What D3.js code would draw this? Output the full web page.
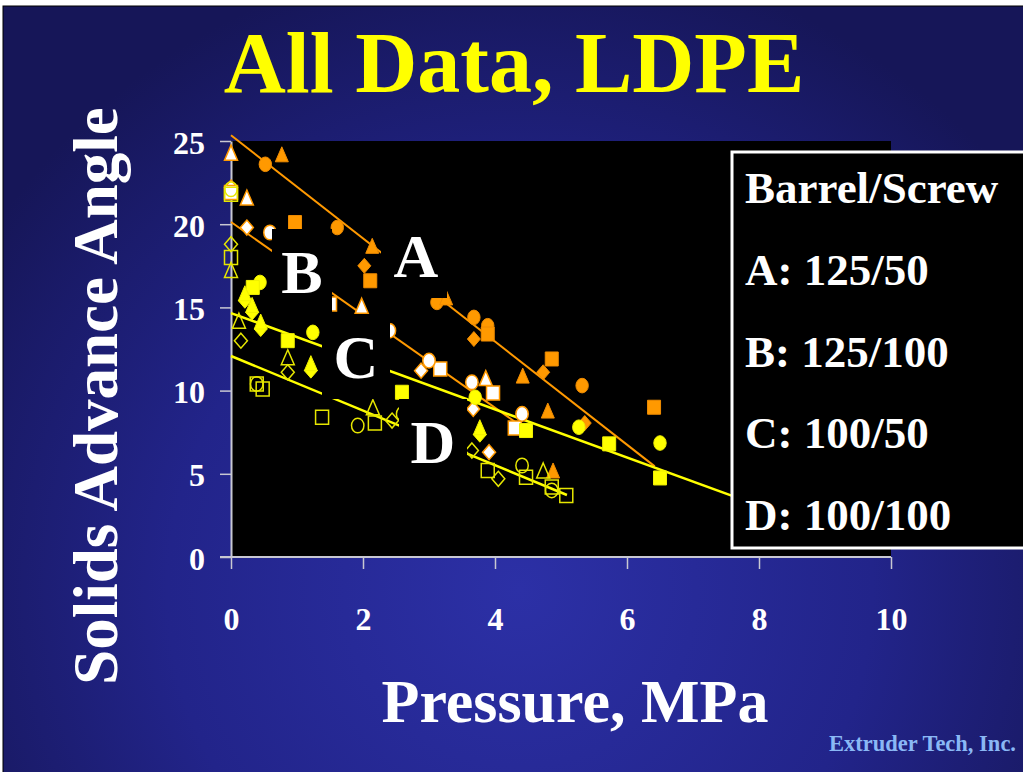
<!DOCTYPE html>
<html><head><meta charset="utf-8">
<script src="https://cdn.jsdelivr.net/npm/d3@7"></script>
<style>html,body{margin:0;padding:0;background:#fff;overflow:hidden}</style>
</head><body><svg id="c" width="1023" height="772"></svg>
<script>
// ---------- data ----------
const xTicks = [0, 2, 4, 6, 8, 10];
const yTicks = [0, 5, 10, 15, 20, 25];
const seriesKeys = ["A", "B", "C", "D"];
const legendLines = ["Barrel/Screw", "A: 125/50", "B: 125/100", "C: 100/50", "D: 100/100"];

// Series A: 125/50 (orange filled)
const aX = [0.52, 1.61, 3.12, 3.68, 3.89, 5.32, 0.77, 2.14, 3.26, 4.42, 4.80, 4.88, 0.97, 2.11, 3.89, 4.86, 6.41, 2.02, 3.68, 4.73, 5.36];
const aY = [23.6, 19.8, 15.3, 14.4, 13.9, 10.3, 24.2, 18.7, 15.6, 10.9, 8.8, 5.2, 20.1, 16.6, 13.4, 11.9, 9.0, 17.5, 13.1, 11.1, 8.05];
const aShape = ["circle","circle","circle","circle","circle","circle","triangle","triangle","triangle","triangle","triangle","triangle","square","square","square","square","square","diamond","diamond","diamond","diamond"];

// Series B: 125/100 (white, orange outline)
const bX = [0, 0.24, 1.98, 3.86, 0, 0.24, 2.88, 3.67, 3.91, 0, 1.50, 3.17, 3.97, 4.30, 0.59, 2.40, 3.00, 3.65, 4.41];
const bY = [24.3, 21.6, 15.1, 10.75, 22.2, 19.8, 11.2, 8.9, 6.3, 21.9, 15.2, 11.3, 9.85, 7.75, 19.5, 13.6, 11.8, 10.5, 8.6];
const bShape = ["triangle","triangle","triangle","triangle","diamond","diamond","diamond","diamond","diamond","square","square","square","square","square","circle","circle","circle","circle","circle"];

// Series C: 100/50 (yellow filled)
const cX = [0.44, 1.24, 3.70, 5.27, 6.50, 0.33, 0.86, 2.59, 4.47, 5.73, 6.50, 0.21, 0.32, 0.45, 1.21, 3.77, 0.21, 0.32, 0.45, 1.21, 3.77];
const cY = [16.5, 13.5, 9.6, 7.8, 6.85, 16.2, 13.0, 9.9, 7.6, 6.8, 4.75, 15.4, 14.7, 13.7, 11.2, 7.35, 15.85, 15.15, 14.15, 11.65, 7.8];
const cShape = ["circle","circle","circle","circle","circle","square","square","square","square","square","square","diamond","diamond","diamond","diamond","diamond","triangle","triangle","triangle","triangle","triangle"];

// Series D: 100/100 (yellow hollow)
const dX = [0, 0.12, 0.86, 2.15, 4.73, 0, 0.15, 0.86, 2.44, 3.65, 4.05, 0, 0, 0.39, 0.48, 1.38, 2.18, 3.89, 4.47, 4.86, 5.08, 0, 0.39, 1.92, 2.60, 4.41, 4.86];
const dY = [17.25, 14.2, 12.0, 9.0, 5.2, 18.8, 13.0, 11.1, 8.2, 6.4, 4.7, 18.0, 21.8, 10.4, 10.1, 8.4, 8.05, 5.2, 4.8, 4.2, 3.7, 22.1, 10.4, 7.9, 8.6, 5.5, 4.0];
const dShape = ["triangle","triangle","triangle","triangle","triangle","diamond","diamond","diamond","diamond","diamond","diamond","square","square","square","square","square","square","square","square","square","square","circle","circle","circle","circle","circle","circle"];

// Trend lines (A, B, C, D)
const trendX0 = [0, 0, 0, 0];
const trendX1 = [6.42, 4.33, 8.0, 5.09];
const trendIntercept = [25.35, 20.13, 14.66, 12.08];
const trendSlope = [-3.10, -2.79, -1.447, -1.641];

// ---------- drawing ----------
const svg = d3.select("#c");
const W = 1023, H = 772;
const serif = "'Liberation Serif','Times New Roman',Times,serif";

const defs = svg.append("defs");
const grad = defs.append("radialGradient").attr("id", "bg")
  .attr("gradientUnits", "userSpaceOnUse")
  .attr("cx", 520).attr("cy", 590).attr("r", 640);
grad.append("stop").attr("offset", "0").attr("stop-color", "#2c30a6");
grad.append("stop").attr("offset", "0.55").attr("stop-color", "#22248a");
grad.append("stop").attr("offset", "1").attr("stop-color", "#161658");

svg.append("rect").attr("width", W).attr("height", H).attr("fill", "#fff");
svg.append("rect").attr("x", 3).attr("y", 6).attr("width", W).attr("height", H)
  .attr("fill", "url(#bg)").attr("stroke", "#000").attr("stroke-width", 1);

const x = d3.scaleLinear().domain([0, 10]).range([231, 891]);
const y = d3.scaleLinear().domain([0, 25]).range([557, 141]);

// plot area
svg.append("rect").attr("x", x(0)).attr("y", y(25))
  .attr("width", x(10) - x(0)).attr("height", y(0) - y(25)).attr("fill", "#000");

// axes
const axisColor = "#c8c8d2";
const gx = svg.append("g").attr("transform", `translate(0,${y(0)})`)
  .call(d3.axisBottom(x).tickValues(xTicks).tickSize(12).tickSizeOuter(0).tickPadding(38).tickFormat(d3.format("d")));
const gy = svg.append("g").attr("transform", `translate(${x(0)},0)`)
  .call(d3.axisLeft(y).tickValues(yTicks).tickSize(11).tickSizeOuter(0).tickPadding(15).tickFormat(d3.format("d")));
[gx, gy].forEach(g => {
  g.select(".domain").attr("stroke", axisColor).attr("stroke-width", 2);
  g.selectAll(".tick line").attr("stroke", axisColor).attr("stroke-width", 1.5);
  g.selectAll(".tick text").attr("fill", "#fff").attr("font-family", serif)
    .attr("font-weight", "bold").attr("font-size", 32);
});
gx.select(".domain").attr("d", `M${x(0) - 11},0H${x(10)}`);
gy.selectAll(".tick text").attr("dy", "0.38em");

// trend lines
const trendColor = ["#ff9900", "#ff9900", "#ffff00", "#ffff00"];
const trendWidth = [2, 2, 2.5, 2.5];
seriesKeys.forEach((k, i) => {
  const pts = [trendX0[i], trendX1[i]].map(v => [x(v), y(trendIntercept[i] + trendSlope[i] * v)]);
  svg.append("path").attr("d", d3.line()(pts)).attr("stroke", trendColor[i])
    .attr("stroke-width", trendWidth[i]).attr("fill", "none");
});

// markers
function shapePath(s, cx, cy) {
  if (s === "square") { const w = 13, h = 14; return `M${cx - w / 2},${cy - h / 2}h${w}v${h}h${-w}Z`; }
  if (s === "circle") { const rx = 6.2, ry = 7.3; return `M${cx - rx},${cy}A${rx},${ry} 0 1 0 ${cx + rx},${cy}A${rx},${ry} 0 1 0 ${cx - rx},${cy}Z`; }
  if (s === "triangle") { const w = 13, h = 15; return `M${cx},${cy - h / 2}L${cx + w / 2},${cy + h / 2}L${cx - w / 2},${cy + h / 2}Z`; }
  const w = 13, h = 15; return `M${cx},${cy - h / 2}L${cx + w / 2},${cy}L${cx},${cy + h / 2}L${cx - w / 2},${cy}Z`;
}
const seriesData = [
  { xs: aX, ys: aY, sh: aShape, fill: "#ff9900", stroke: "#f08c00", sw: 1 },
  { xs: bX, ys: bY, sh: bShape, fill: "#ffffff", stroke: "#ff9900", sw: 1.5 },
  { xs: cX, ys: cY, sh: cShape, fill: "#ffff00", stroke: "#f0f000", sw: 1 },
  { xs: dX, ys: dY, sh: dShape, fill: "none", stroke: "#e6e600", sw: 1.5 }
];
seriesData.forEach((s, si) => {
  const pts = s.xs.map((v, i) => ({ x: v, y: s.ys[i], shape: s.sh[i] }));
  svg.append("g").attr("class", "series-" + seriesKeys[si]).selectAll("path").data(pts).join("path")
    .attr("d", d => shapePath(d.shape, x(d.x), y(d.y)))
    .attr("fill", s.fill).attr("stroke", s.stroke).attr("stroke-width", s.sw);
});

// in-plot labels with black boxes
const labelBoxes = [
  { t: "A", x0: 381, y0: 212, x1: 447, y1: 298, tx: 416, ty: 277 },
  { t: "B", x0: 272, y0: 229, x1: 332, y1: 314, tx: 302, ty: 293 },
  { t: "C", x0: 322, y0: 314, x1: 390, y1: 399, tx: 356, ty: 378 },
  { t: "D", x0: 399, y0: 399, x1: 467, y1: 484, tx: 433, ty: 463 }
];
labelBoxes.forEach(b => {
  svg.append("rect").attr("x", b.x0).attr("y", b.y0).attr("width", b.x1 - b.x0).attr("height", b.y1 - b.y0).attr("fill", "#000");
  svg.append("text").attr("x", b.tx).attr("y", b.ty).attr("text-anchor", "middle")
    .attr("font-family", serif).attr("font-weight", "bold").attr("font-size", 62).attr("fill", "#fff").text(b.t);
});

// legend box
svg.append("rect").attr("x", 732).attr("y", 152).attr("width", 310).attr("height", 396)
  .attr("fill", "#000").attr("stroke", "#fff").attr("stroke-width", 3);
const legendBase = [203, 285, 367, 448, 530];
legendLines.forEach((t, i) => {
  svg.append("text").attr("x", 745).attr("y", legendBase[i]).attr("font-family", serif)
    .attr("font-weight", "bold").attr("font-size", 45).attr("fill", "#fff").text(t);
});

// titles
svg.append("text").attr("x", 514).attr("y", 92).attr("text-anchor", "middle")
  .attr("font-family", serif).attr("font-weight", "bold").attr("font-size", 86).attr("fill", "#ffff00")
  .text("All Data, LDPE");
svg.append("text").attr("transform", "translate(117,396) rotate(-90)").attr("text-anchor", "middle")
  .attr("font-family", serif).attr("font-weight", "bold").attr("font-size", 63).attr("fill", "#fff")
  .text("Solids Advance Angle");
svg.append("text").attr("x", 575).attr("y", 722).attr("text-anchor", "middle")
  .attr("font-family", serif).attr("font-weight", "bold").attr("font-size", 62).attr("fill", "#fff")
  .text("Pressure, MPa");
svg.append("text").attr("x", 1016).attr("y", 751).attr("text-anchor", "end")
  .attr("font-family", serif).attr("font-weight", "bold").attr("font-size", 22.5).attr("fill", "#8ab8f5")
  .text("Extruder Tech, Inc.");
</script></body></html>
